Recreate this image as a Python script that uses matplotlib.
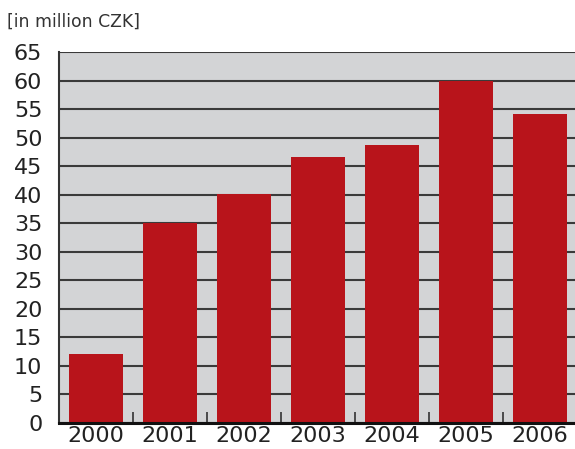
import numpy as np
import matplotlib.pyplot as plt

plt.rcParams['font.family'] = ['DejaVu Sans']

# Annual amounts, million CZK
years = ['2000', '2001', '2002', '2003', '2004', '2005', '2006']
values = [12.1, 35.0, 40.1, 46.6, 48.7, 60.0, 54.1]

fig = plt.figure(figsize=(5.75, 4.49), dpi=100)
ax = fig.add_axes([0.1026, 0.0579, 0.8974, 0.8261])
ax.set_facecolor('#d3d4d6')

x = np.arange(len(years))
ax.bar(x, values, width=0.73, color='#b8141b', zorder=3)

ax.set_ylim(0, 65)
ax.set_xlim(-0.5, 6.473)
ax.set_yticks(np.arange(0, 70, 5))
ax.yaxis.grid(True, color='#3a3a3a', linewidth=1.5, zorder=1)
ax.set_axisbelow(True)

ax.set_xticks(x)
ax.set_xticklabels(years)
ax.set_xticks(x[:-1] + 0.5, minor=True)
ax.tick_params(axis='x', which='major', length=0, labelsize=16, pad=2, colors='#222222')
ax.tick_params(axis='x', which='minor', direction='in', length=8, width=1.2, color='#333333')
ax.tick_params(axis='y', length=0, labelsize=16, pad=12, colors='#222222')

for side in ['top', 'right']:
    ax.spines[side].set_visible(False)
ax.spines['left'].set_color('#333333')
ax.spines['left'].set_linewidth(1.5)
ax.spines['bottom'].set_color('#111111')
ax.spines['bottom'].set_linewidth(2.2)
ax.spines['bottom'].set_zorder(4)

fig.text(0.012, 0.952, '[in million CZK]', fontsize=12.4, color='#333333', va='center')

fig.savefig('out.png', dpi=100)
